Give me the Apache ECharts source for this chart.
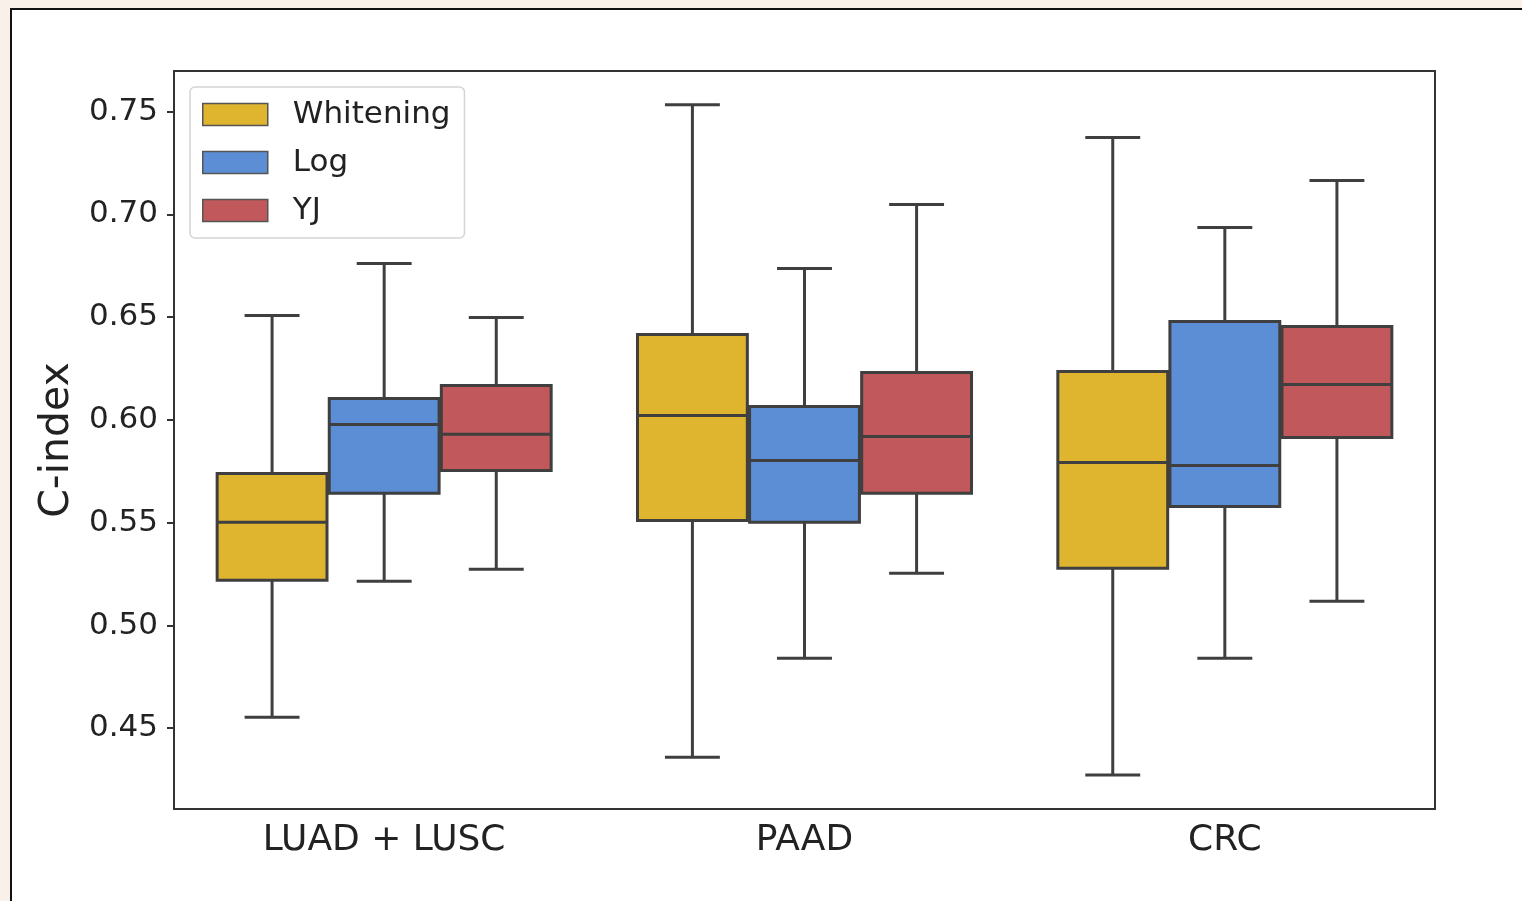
<!DOCTYPE html>
<html>
<head>
<meta charset="utf-8">
<script src="https://cdn.jsdelivr.net/npm/echarts@6/dist/echarts.min.js"></script>
<style>
  html, body { margin:0; padding:0; width:1522px; height:901px; overflow:hidden; background:#f9f0ea; }
  #frame { position:absolute; left:10px; top:8px; width:1530px; height:910px; background:#fff; border:2px solid #111; }
  #chart { position:absolute; left:0; top:0; width:1522px; height:901px; }
</style>
</head>
<body>
<div id="frame"></div>
<div id="chart"></div>
<script>
// categories and series: each entry = [lower whisker, Q1, median, Q3, upper whisker]
const categories = ['LUAD + LUSC', 'PAAD', 'CRC'];
const methods = ['Whitening', 'Log', 'YJ'];
const whitening = [
  [0.4554, 0.5220, 0.5502, 0.5740, 0.6508],
  [0.4359, 0.5511, 0.6022, 0.6416, 0.7534],
  [0.4272, 0.5278, 0.5793, 0.6236, 0.7374]
];
const logT = [
  [0.5215, 0.5643, 0.5978, 0.6105, 0.6761],
  [0.4840, 0.5502, 0.5803, 0.6066, 0.6737],
  [0.4840, 0.5579, 0.5779, 0.6479, 0.6936]
];
const yj = [
  [0.5273, 0.5754, 0.5930, 0.6168, 0.6498],
  [0.5254, 0.5643, 0.5920, 0.6231, 0.7048],
  [0.5118, 0.5915, 0.6173, 0.6455, 0.7165]
];
const yTicks = [0.45, 0.50, 0.55, 0.60, 0.65, 0.70, 0.75];

const colors = ['#dfb52f', '#5c8ed6', '#c0585c'];
const LINE = '#3f3f3f';
const seriesData = [whitening, logT, yj];

function makeRender(k) {
  return function (params, api) {
    const x = api.value(0);
    const band = api.size([1, 0])[0];
    const step = band * 0.8 / 3;
    const w = step * 0.98;
    const cx = api.coord([x, api.value(3)])[0] + (k - 1) * step;
    const y = i => api.coord([x, api.value(i)])[1];
    const lo = y(1), q1 = y(2), md = y(3), q3 = y(4), hi = y(5);
    const ls = { stroke: LINE, lineWidth: 3 };
    return {
      type: 'group',
      children: [
        { type: 'line', shape: { x1: cx, y1: hi, x2: cx, y2: q3 }, style: ls },
        { type: 'line', shape: { x1: cx, y1: q1, x2: cx, y2: lo }, style: ls },
        { type: 'line', shape: { x1: cx - w / 4, y1: hi, x2: cx + w / 4, y2: hi }, style: ls },
        { type: 'line', shape: { x1: cx - w / 4, y1: lo, x2: cx + w / 4, y2: lo }, style: ls },
        { type: 'rect', shape: { x: cx - w / 2, y: q3, width: w, height: q1 - q3 },
          style: { fill: colors[k], stroke: LINE, lineWidth: 3 } },
        { type: 'line', shape: { x1: cx - w / 2, y1: md, x2: cx + w / 2, y2: md }, style: ls }
      ]
    };
  };
}

const chart = echarts.init(document.getElementById('chart'), null, { renderer: 'canvas' });
const FONT = 'DejaVu Sans';
chart.setOption({
  backgroundColor: 'transparent',
  animation: false,
  textStyle: { fontFamily: FONT },
  grid: { left: 174, right: 87, top: 71, bottom: 92, show: true, borderColor: '#333', borderWidth: 2, backgroundColor: 'transparent' },
  legend: {
    orient: 'vertical', left: 190, top: 87,
    padding: [12, 14, 12, 12],
    backgroundColor: '#fff', borderColor: '#d4d4d4', borderWidth: 1.5, borderRadius: 5,
    itemWidth: 65, itemHeight: 22, itemGap: 17,
    itemStyle: { borderColor: '#555', borderWidth: 1.5 },
    textStyle: { fontFamily: FONT, fontSize: 31, color: '#222', lineHeight: 30, padding: [0, 0, 0, 20] },
    data: methods.map(m => ({ name: m, icon: 'rect' }))
  },
  xAxis: {
    type: 'category', data: categories, boundaryGap: true,
    axisLine: { lineStyle: { color: '#333', width: 2 } },
    axisTick: { alignWithLabel: true, length: 7, lineStyle: { color: '#333', width: 2 } },
    axisLabel: { fontFamily: FONT, fontSize: 36, color: '#222', margin: 14 },
    splitLine: { show: false }
  },
  yAxis: {
    type: 'value', min: 0.4107, max: 0.7698,
    name: 'C-index', nameLocation: 'middle', nameGap: 96,
    nameTextStyle: { fontFamily: FONT, fontSize: 41, color: '#222' },
    axisLine: { show: true, lineStyle: { color: '#333', width: 2 } },
    axisTick: { show: true, length: 7, customValues: yTicks, lineStyle: { color: '#333', width: 2 } },
    axisLabel: { fontFamily: FONT, fontSize: 31, color: '#222', margin: 16, customValues: yTicks,
      padding: [4, 0, 0, 0], formatter: v => v.toFixed(2) },
    splitLine: { show: false }
  },
  series: methods.map((m, k) => ({
    type: 'custom', name: m,
    itemStyle: { color: colors[k] },
    renderItem: makeRender(k),
    encode: { x: 0, y: [1, 2, 3, 4, 5] },
    data: seriesData[k].map((v, i) => [i].concat(v))
  }))
});
</script>
</body>
</html>
